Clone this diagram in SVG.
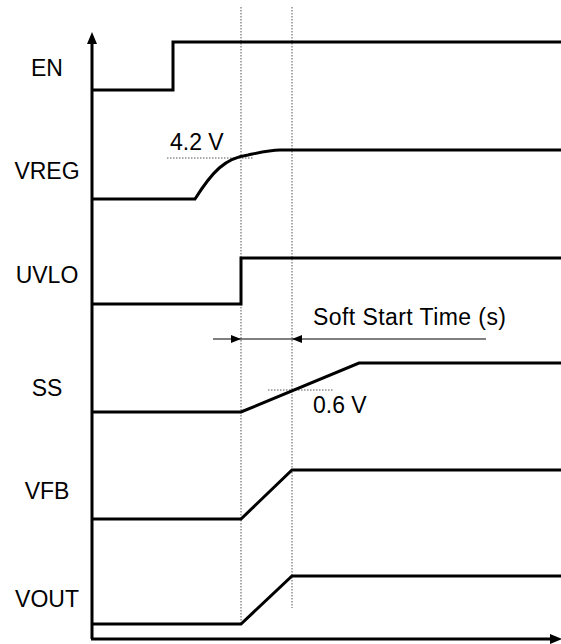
<svg xmlns="http://www.w3.org/2000/svg" width="561" height="644" viewBox="0 0 561 644">
<style>
.sig{fill:none;stroke:#000;stroke-width:3;stroke-linejoin:miter}
.ax{fill:none;stroke:#000;stroke-width:3}
.dot{fill:none;stroke:#555;stroke-width:1;stroke-dasharray:1.5 1.5}
.dim{fill:none;stroke:#000;stroke-width:1}
.lbl{font-family:"Liberation Sans",Arial,sans-serif;font-size:23px;fill:#000}
</style>
<defs>
<marker id="ah" markerWidth="10" markerHeight="8" refX="10" refY="4" orient="auto" markerUnits="userSpaceOnUse">
<path d="M0,0 L10,4 L0,8 Z" fill="#000"/>
</marker>
</defs>
<rect width="561" height="644" fill="#fff"/>
<g id="guides">
<line class="dot" x1="241" y1="7" x2="241" y2="623"/>
<line class="dot" x1="292" y1="7" x2="292" y2="608"/>
<line class="dot" x1="167" y1="158" x2="253" y2="158"/>
<line class="dot" x1="268" y1="390" x2="334" y2="390"/>
</g>
<g id="axes">
<line class="ax" x1="92" y1="639" x2="92" y2="42"/>
<path d="M87,44 L92,32 L97,44 Z" fill="#000"/>
<line class="ax" x1="91" y1="639" x2="552" y2="639"/>
<path d="M550,634 L562,639 L550,644 Z" fill="#000"/>
</g>
<g id="EN">
<text class="lbl" x="47" y="76" text-anchor="middle">EN</text>
<path class="sig" d="M92,90 H173 V42 H561"/>
</g>
<g id="VREG">
<text class="lbl" x="47" y="179" text-anchor="middle">VREG</text>
<path class="sig" d="M92,199 H195 C212,172 225,158 248,155 C262,152 270,150 280,150 H561"/>
<text class="lbl" x="170" y="150">4.2 V</text>
</g>
<g id="UVLO">
<text class="lbl" x="47" y="283" text-anchor="middle">UVLO</text>
<path class="sig" d="M92,304 H241 V258 H561"/>
</g>
<g id="softstart">
<line class="dim" x1="213" y1="339" x2="241" y2="339" marker-end="url(#ah)"/>
<line class="dim" x1="241" y1="339" x2="292" y2="339"/>
<line class="dim" x1="486" y1="339" x2="292" y2="339" marker-end="url(#ah)"/>
<text class="lbl" x="313" y="325" textLength="193">Soft Start Time (s)</text>
</g>
<g id="SS">
<text class="lbl" x="47" y="396" text-anchor="middle">SS</text>
<path class="sig" d="M92,412 H241 L359,363 H561"/>
<text class="lbl" x="313" y="413">0.6 V</text>
</g>
<g id="VFB">
<text class="lbl" x="47" y="499" text-anchor="middle">VFB</text>
<path class="sig" d="M92,519 H241 L292,470 H561"/>
</g>
<g id="VOUT">
<text class="lbl" x="47" y="607" text-anchor="middle">VOUT</text>
<path class="sig" d="M92,624 H241 L292,576 H561"/>
</g>
</svg>
